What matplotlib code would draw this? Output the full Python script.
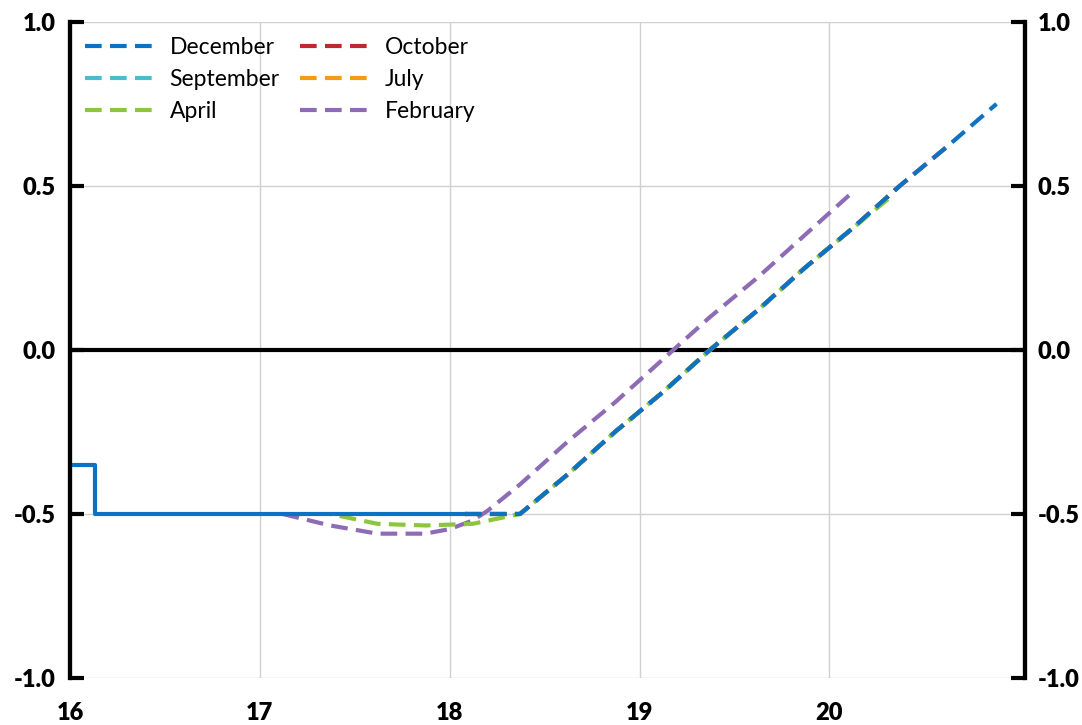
import matplotlib.pyplot as plt
from matplotlib.lines import Line2D
import numpy as np

plt.rcParams['font.family'] = ['Lato', 'DejaVu Sans']
plt.rcParams['axes.unicode_minus'] = False

# realised rate (step)
real_x = [16.0, 16.13, 18.08]
real_y = [-0.35, -0.50, -0.50]

# forecast paths
dec_x = [18.08, 18.2, 18.37, 18.62, 18.87, 19.12, 19.37, 19.62, 19.87, 20.12, 20.37, 20.62, 20.88]
dec_y = [-0.50, -0.50, -0.50, -0.38, -0.25, -0.13, 0.00, 0.12, 0.25, 0.37, 0.50, 0.62, 0.75]

oct_x = [18.08, 18.2, 18.37, 18.62, 18.87, 19.12, 19.37, 19.62, 19.87, 20.12, 20.37, 20.62]
oct_y = [-0.50, -0.50, -0.50, -0.38, -0.25, -0.13, 0.00, 0.12, 0.25, 0.37, 0.50, 0.62]

sep_x = [18.08, 18.2, 18.37, 18.62, 18.87, 19.12, 19.37, 19.62, 19.87, 20.12, 20.37]
sep_y = [-0.50, -0.50, -0.50, -0.38, -0.25, -0.13, 0.00, 0.12, 0.25, 0.37, 0.50]

jul_x = [18.08, 18.2, 18.37, 18.62, 18.87, 19.12, 19.37, 19.62, 19.87, 20.12, 20.37]
jul_y = [-0.50, -0.50, -0.50, -0.38, -0.25, -0.13, 0.00, 0.12, 0.25, 0.37, 0.50]

apr_x = [17.37, 17.62, 17.87, 18.12, 18.37, 18.62, 18.87, 19.12, 19.37, 19.62, 19.87, 20.12, 20.33]
apr_y = [-0.50, -0.53, -0.535, -0.53, -0.50, -0.38, -0.25, -0.13, 0.00, 0.12, 0.25, 0.37, 0.47]

feb_x = [17.12, 17.37, 17.62, 17.87, 18.0, 18.12, 18.2, 18.37, 18.62, 18.87, 19.12, 19.37, 19.62, 19.87, 20.12]
feb_y = [-0.50, -0.535, -0.56, -0.56, -0.546, -0.52, -0.49, -0.41, -0.28, -0.16, -0.03, 0.10, 0.22, 0.35, 0.48]

yticks = [-1.0, -0.5, 0.0, 0.5, 1.0]
ylabels = ['-1.0', '-0.5', '0.0', '0.5', '1.0']
xticks = [16, 17, 18, 19, 20]
xlabels = ['16', '17', '18', '19', '20']

colors = {'December': '#0b72c4', 'September': '#4bbcd0', 'April': '#8cc63f',
          'October': '#c0282f', 'July': '#f39c12', 'February': '#8e6cb5'}

fig = plt.figure(figsize=(10.82, 7.25), dpi=100)
ax = fig.add_axes([0.0647, 0.0648, 0.8826, 0.905])
ax.set_xlim(16, 21.03)
ax.set_ylim(-1, 1)

lw = 3
on, off = 4, 2


def path_len(xs, ys, n):
    # length in points along the drawn path up to point n
    p = ax.transData.transform(np.column_stack([xs[:n + 1], ys[:n + 1]]))
    return np.hypot(*np.diff(p, axis=0).T).sum() * 72 / fig.dpi


# shift April's dash phase so it sits (almost) under December
period = (on + off) * lw
shift = (path_len(dec_x, dec_y, 2) - path_len(apr_x, apr_y, 4)) % period
apr_off = (shift / lw + 0.5) % (on + off)

kw = dict(lw=lw, dash_capstyle='butt')
ax.plot(feb_x, feb_y, color=colors['February'], zorder=3, ls=(0, (on, off)), **kw)
ax.plot(jul_x, jul_y, color=colors['July'], zorder=3, ls=(0, (on, off)), **kw)
ax.plot(sep_x, sep_y, color=colors['September'], zorder=3, ls=(0, (on, off)), **kw)
ax.plot(oct_x, oct_y, color=colors['October'], zorder=3, ls=(0, (on, off)), **kw)
ax.plot(apr_x, apr_y, color=colors['April'], zorder=3, ls=(apr_off, (on, off)), **kw)
ax.plot(dec_x, dec_y, color=colors['December'], zorder=4, ls=(0, (on, off)), **kw)
ax.step(real_x, real_y, where='post', color=colors['December'], lw=lw, zorder=5)

ax.axhline(0, color='black', lw=3, zorder=2)

ax.set_xticks(xticks)
ax.set_xticklabels(xlabels, fontsize=17, fontweight='heavy')
ax.set_yticks(yticks)
ax.set_yticklabels(ylabels, fontsize=17, fontweight='heavy')
ax.tick_params(axis='x', length=0, pad=17)
ax.tick_params(axis='y', direction='in', length=10, width=3, pad=10)
ax.grid(True, color='#d0d0d0', lw=1, zorder=0)

ax2 = ax.twinx()
ax2.set_ylim(-1, 1)
ax2.set_yticks(yticks)
ax2.set_yticklabels(ylabels, fontsize=17, fontweight='heavy')
ax2.tick_params(axis='y', direction='in', length=10, width=3, pad=9)

for a in (ax, ax2):
    a.spines['top'].set_visible(False)
    a.spines['bottom'].set_visible(False)
    a.spines['left'].set_linewidth(3)
    a.spines['right'].set_linewidth(3)

order = ['December', 'September', 'April', 'October', 'July', 'February']
handles = [Line2D([], [], color=colors[k], ls=(0, (on, off)), **kw) for k in order]
ax.legend(handles, order, ncol=2, loc='upper left',
          frameon=False, fontsize=16.5, handlelength=3.2, columnspacing=0.9,
          handletextpad=0.5, labelspacing=0.48, borderaxespad=0.25)

fig.savefig('out.png', dpi=100)
